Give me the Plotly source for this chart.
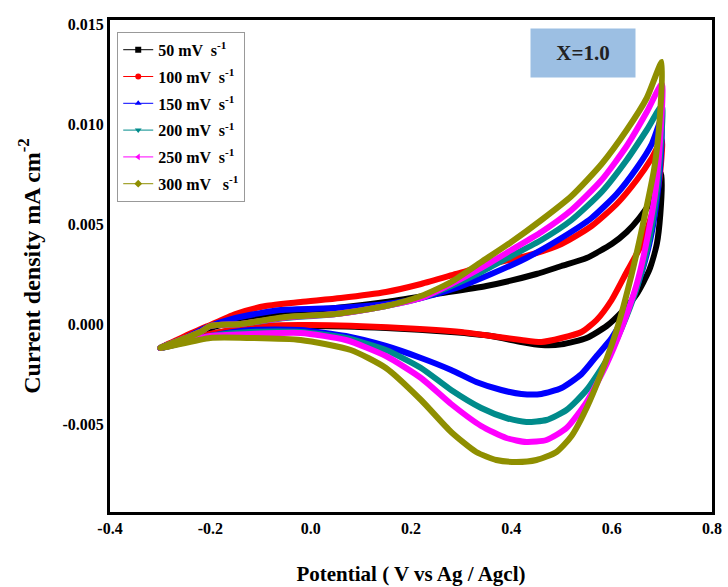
import plotly.graph_objects as go

# ---- data (potential V vs Ag/AgCl, current density mA cm^-2) ----
E_50 = [-0.30, -0.25, -0.20, -0.12, -0.04, 0.05, 0.15, 0.25, 0.35, 0.45, 0.50, 0.55, 0.60, 0.63, 0.655, 0.68, 0.70,
        0.697, 0.69, 0.675, 0.65, 0.62, 0.59, 0.55, 0.50, 0.46, 0.42, 0.36, 0.28, 0.15, 0.0, -0.12, -0.20, -0.30]
J_50 = [-0.0012, -0.0007, -0.0002, 0.0003, 0.0006, 0.0008, 0.0011, 0.0015, 0.0019, 0.0025, 0.0029, 0.0033, 0.0040, 0.0046, 0.0053, 0.0062, 0.0075,
        0.0055, 0.0040, 0.0027, 0.0015, 0.0006, -0.0001, -0.0007, -0.00102, -0.00105, -0.0009, -0.0006, -0.0004, -0.0002, -0.0001, -0.0002, -0.0005, -0.0012]

E_100 = [-0.30, -0.25, -0.205, -0.15, -0.09, -0.02, 0.06, 0.15, 0.22, 0.29, 0.36, 0.43, 0.50, 0.56, 0.61, 0.65, 0.68, 0.70,
         0.695, 0.68, 0.66, 0.63, 0.60, 0.57, 0.54, 0.50, 0.46, 0.42, 0.36, 0.30, 0.18, 0.0, -0.10, -0.20, -0.30]
J_100 = [-0.0012, -0.0006, -0.0001, 0.0005, 0.0009, 0.0011, 0.0013, 0.0016, 0.0020, 0.0025, 0.0030, 0.0034, 0.0040, 0.0049, 0.0060, 0.0072, 0.0083, 0.0092,
         0.0072, 0.0055, 0.0040, 0.0026, 0.0012, 0.0002, -0.0004, -0.0007, -0.0009, -0.0008, -0.0006, -0.0004, -0.0002, -0.00005, -0.0001, -0.0005, -0.0012]

E_150 = [-0.30, -0.25, -0.21, -0.15, -0.06, 0.05, 0.15, 0.22, 0.29, 0.36, 0.43, 0.50, 0.56, 0.61, 0.65, 0.68, 0.70,
         0.697, 0.688, 0.675, 0.655, 0.63, 0.60, 0.57, 0.54, 0.50, 0.46, 0.42, 0.38, 0.33, 0.28, 0.22, 0.15, 0.07, -0.02, -0.12, -0.20, -0.30]
J_150 = [-0.0012, -0.0007, -0.0002, 0.0003, 0.0007, 0.0008, 0.0010, 0.0013, 0.0018, 0.0025, 0.0033, 0.0043, 0.0053, 0.0065, 0.0078, 0.0090, 0.0103,
         0.0080, 0.0058, 0.0040, 0.0022, 0.0006, -0.0007, -0.0016, -0.0025, -0.0032, -0.0035, -0.0035, -0.0033, -0.0029, -0.0023, -0.0017, -0.0011, -0.0006, -0.0003, -0.0003, -0.0006, -0.0012]

E_200 = [-0.30, -0.25, -0.22, -0.20, -0.14, -0.05, 0.05, 0.15, 0.22, 0.28, 0.34, 0.40, 0.46, 0.52, 0.58, 0.63, 0.67, 0.70,
         0.697, 0.688, 0.673, 0.65, 0.62, 0.59, 0.55, 0.51, 0.47, 0.43, 0.39, 0.34, 0.28, 0.22, 0.15, 0.07, -0.02, -0.12, -0.20, -0.30]
J_200 = [-0.0012, -0.0007, -0.0004, -0.0001, 0.0000, 0.0003, 0.0005, 0.0009, 0.0013, 0.0019, 0.0026, 0.0034, 0.0042, 0.0052, 0.0066, 0.0082, 0.0097, 0.0109,
         0.0086, 0.0062, 0.0040, 0.0018, -0.0002, -0.0018, -0.0033, -0.0043, -0.0048, -0.0049, -0.0047, -0.0042, -0.0033, -0.0022, -0.0013, -0.0007, -0.0004, -0.0004, -0.0006, -0.0012]

E_250 = [-0.30, -0.25, -0.22, -0.20, -0.14, -0.05, 0.05, 0.15, 0.22, 0.28, 0.34, 0.40, 0.46, 0.52, 0.58, 0.63, 0.67, 0.70,
         0.697, 0.688, 0.672, 0.65, 0.62, 0.59, 0.55, 0.51, 0.47, 0.43, 0.39, 0.34, 0.28, 0.22, 0.15, 0.07, -0.02, -0.12, -0.20, -0.30]
J_250 = [-0.0012, -0.0007, -0.0004, -0.0001, 0.0000, 0.00033, 0.0005, 0.0009, 0.0013, 0.0020, 0.0028, 0.0037, 0.0046, 0.0057, 0.0072, 0.0089, 0.0106, 0.0120,
         0.0094, 0.0068, 0.0044, 0.0020, -0.0002, -0.0020, -0.0039, -0.0052, -0.0058, -0.0059, -0.0057, -0.0051, -0.0040, -0.0027, -0.0016, -0.0008, -0.00045, -0.0005, -0.0006, -0.0012]

E_300 = [-0.30, -0.25, -0.22, -0.20, -0.14, -0.05, 0.05, 0.15, 0.22, 0.28, 0.34, 0.40, 0.46, 0.52, 0.58, 0.63, 0.67, 0.70,
         0.695, 0.685, 0.665, 0.64, 0.61, 0.58, 0.55, 0.52, 0.49, 0.45, 0.41, 0.37, 0.33, 0.28, 0.22, 0.15, 0.08, -0.02, -0.12, -0.20, -0.30]
J_300 = [-0.0012, -0.0007, -0.0004, -0.0001, 0.0000, 0.00035, 0.0005, 0.0009, 0.0014, 0.0021, 0.0031, 0.0041, 0.0052, 0.0064, 0.0080, 0.0097, 0.0113, 0.0131,
         0.0100, 0.0078, 0.0053, 0.0025, -0.0003, -0.0024, -0.0042, -0.0056, -0.0064, -0.0068, -0.0069, -0.0068, -0.0064, -0.0054, -0.0038, -0.0022, -0.0013, -0.0008, -0.0007, -0.0007, -0.0012]

SERIES_NAMES = ["50 mV  s<sup>-1</sup>", "100 mV  s<sup>-1</sup>", "150 mV  s<sup>-1</sup>",
                "200 mV  s<sup>-1</sup>", "250 mV  s<sup>-1</sup>", "300 mV   s<sup>-1</sup>"]
SERIES_E = [E_50, E_100, E_150, E_200, E_250, E_300]
SERIES_J = [J_50, J_100, J_150, J_200, J_250, J_300]
COLORS = ["#000000", "#ff0000", "#0000ff", "#008b8b", "#ff00ff", "#8f8f00"]
SYMBOLS = ["square", "circle", "triangle-up", "triangle-down", "triangle-left", "diamond"]

X_TICKS = [-0.4, -0.2, 0.0, 0.2, 0.4, 0.6, 0.8]
X_TICK_LABELS = ["-0.4", "-0.2", "0.0", "0.2", "0.4", "0.6", "0.8"]
Y_TICKS = [-0.005, 0.0, 0.005, 0.010, 0.015]
Y_TICK_LABELS = ["-0.005", "0.000", "0.005", "0.010", "0.015"]

FONT = "Liberation Serif"

fig = go.Figure()
for e, j, c in zip(SERIES_E, SERIES_J, COLORS):
    fig.add_trace(go.Scatter(x=e, y=j, mode="lines", showlegend=False, hoverinfo="skip",
                             line=dict(color=c, width=6, shape="spline", smoothing=0.6)))
for i, (name, c, s) in enumerate(zip(SERIES_NAMES, COLORS, SYMBOLS)):
    fig.add_trace(go.Scatter(x=[None], y=[None], mode="lines+markers", name=name,
                             legendgroup=f"g{i}",
                             line=dict(color=c, width=1), marker=dict(color=c, symbol=s, size=6)))

fig.add_annotation(xref="paper", yref="paper", x=0.786, y=0.933, xanchor="center", yanchor="middle",
                   text="<b>X=1.0</b>", showarrow=False,
                   font=dict(family=FONT, size=21, color="#222222"),
                   bgcolor="#9cbfe3", width=100, height=44, borderpad=2)

fig.update_layout(
    width=728, height=587,
    margin=dict(l=110, r=16, t=20, b=75),
    paper_bgcolor="white", plot_bgcolor="white",
    font=dict(family=FONT, color="black"),
    legend=dict(x=0.012, y=0.976, xanchor="left", yanchor="top",
                bordercolor="#999999", borderwidth=1, bgcolor="white",
                font=dict(family=FONT, size=16, color="black", weight="bold"),
                tracegroupgap=3, itemwidth=30),
    showlegend=True,
)
fig.update_xaxes(range=[-0.4, 0.8], tickvals=X_TICKS, ticktext=X_TICK_LABELS,
                 showgrid=False, zeroline=False, showline=True, mirror=True,
                 linecolor="black", linewidth=3, ticks="", automargin=False,
                 tickfont=dict(family=FONT, size=16, weight="bold"),
                 title=dict(text="Potential ( V vs Ag / Agcl)",
                            font=dict(family=FONT, size=21, weight="bold"), standoff=31))
fig.update_yaxes(range=[-0.0094, 0.0152], tickvals=Y_TICKS, ticktext=Y_TICK_LABELS,
                 showgrid=False, zeroline=False, showline=True, mirror=True,
                 linecolor="black", linewidth=3, ticks="", automargin=False,
                 tickfont=dict(family=FONT, size=16, weight="bold"),
                 title=dict(text="Current density mA cm<sup>-2</sup>",
                            font=dict(family=FONT, size=24, weight="bold"), standoff=16))

fig.write_html("out.html", config={"displayModeBar": False},
               post_script="document.body.style.margin='0';document.body.style.padding='0';")
